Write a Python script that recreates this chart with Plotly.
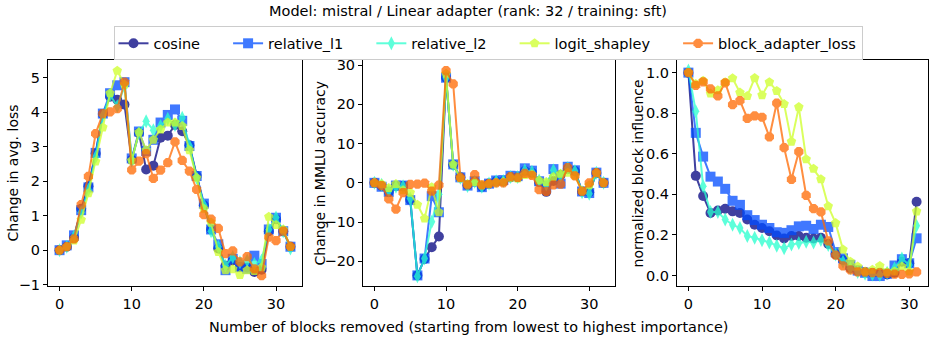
import plotly.graph_objects as go
from plotly.subplots import make_subplots

W, H = 934, 344

methods = ["cosine", "relative_l1", "relative_l2", "logit_shapley", "block_adapter_loss"]
colors = ["rgb(0,0,127)", "rgb(0,77,255)", "rgb(41,255,206)", "rgb(206,255,41)", "rgb(255,104,0)"]
symbols = ["circle", "square", "diamond-tall", "pentagon", "octagon"]

# ---- panel 1: change in avg. loss (blocks 0..32) ----
loss_cosine = [0, 0.1, 0.35, 1.2, 1.85, 2.8, 3.95, 4.45, 4.36, 4.22, 2.62, 3.4, 2.34, 2.45, 3.26, 3.32,
               3.63, 3.45, 3.04, 2.15, 1.3, 0.6, 0.05, -0.45, -0.3, -0.49, -0.5, -0.63, -0.57, 0.55, 0.9, 0.55, 0.1]
loss_rel_l1 = [0, 0.14, 0.43, 1.16, 1.82, 2.82, 3.96, 4.55, 4.78, 4.87, 2.66, 3.44, 2.87, 3.2, 3.7, 3.92,
               4.08, 3.75, 3.02, 2.15, 1.35, 0.6, 0.17, -0.58, -0.25, -0.49, -0.54, -0.16, -0.4, 0.6, 0.94, 0.55, 0.1]
loss_rel_l2 = [0, 0.1, 0.4, 1.1, 1.75, 2.7, 3.9, 4.5, 4.17, 4.75, 2.6, 3.4, 3.74, 3.48, 3.6, 3.81,
               3.63, 3.84, 3.02, 2.1, 1.3, 0.55, 0.1, -0.45, -0.2, -0.35, -0.3, -0.4, -0.3, 0.6, 0.95, 0.55, 0.05]
loss_shapley = [0, 0.1, 0.28, 0.88, 1.65, 2.57, 3.56, 4.55, 5.2, 4.8, 2.6, 3.42, 2.9, 3.2, 3.5, 3.7,
                3.7, 3.6, 2.9, 2.1, 1.2, 0.8, -0.05, -0.58, -0.55, -0.72, -0.58, -0.6, -0.5, 0.97, 0.73, 0.6, 0.1]
loss_adapter = [0, 0.1, 0.33, 1.32, 2.14, 3.38, 3.96, 4.01, 4.1, 4.87, 2.33, 2.58, 2.8, 2.08, 2.32, 2.54,
                3.14, 2.6, 2.29, 1.76, 1.03, 0.9, 0.63, -0.1, -0.02, -0.34, -0.19, -0.54, -0.74, 0.38, 0.28, 0.55, 0.11]

# ---- panel 2: change in MMLU accuracy (blocks 0..32) ----
mmlu_cosine = [0, -0.8, -2.3, -0.8, -0.8, -4.3, -23.6, -19.4, -16.4, -13.7, 26.8, 4.6, 1.4, -0.6, 0.3, -1.0,
               -0.2, 0.4, 0.4, 1.4, 1.4, 3.0, 2.6, 0.2, -2.3, 0.5, 2.0, 3.5, 3.0, -2.2, -2.4, 2.5, 0]
mmlu_rel_l1 = [0, -1.0, -2.3, -0.7, -0.7, -4.4, -23.6, -19.3, -3.4, -7.5, 26.8, 4.7, 1.4, -0.7, 0.4, -1.1,
               -0.2, 0.6, 0.7, 1.8, 1.7, 3.7, 3.1, 0.4, -0.7, 3.5, -0.2, 4.1, 3.2, -2.2, -2.6, 2.6, 0]
mmlu_rel_l2 = [0, -0.5, -2.0, -1.0, -0.9, -4.0, -23.8, -19.3, -9.9, -2.9, 26.8, 4.6, 1.3, -0.8, 0.3, -1.0,
               -0.2, 0.4, 0.5, 1.5, 1.5, 3.2, 2.8, 0.6, -0.4, 3.2, 1.8, 3.8, 3.0, -2.4, -2.8, 2.6, 0]
mmlu_shapley = [0, -0.3, -1.3, -0.3, -1.9, -2.5, -5.6, -9.1, -1.1, -7.5, 27.8, 4.7, 1.2, -0.3, 0.2, -0.6,
                -0.2, 0.1, 0.2, 1.3, 1.1, 2.0, 2.1, 0.6, 0.2, 1.5, 2.3, 2.6, 1.8, -2.0, -0.6, 2.5, 0]
mmlu_adapter = [0, -0.7, -4.1, -6.7, -2.5, -0.4, -0.3, -0.1, -2.1, -0.6, 28.6, 25.2, 1.4, -0.5, 2.1, -0.5,
                -0.2, 0, 0, 1.6, 1.4, 2.4, 1.9, -1.7, -2.2, -0.5, -0.3, 3.9, 1.8, -2.2, 0, 2.6, 0]

# ---- panel 3: normalized block influence (blocks 0..31) ----
infl_cosine = [1.0, 0.491, 0.392, 0.308, 0.32, 0.329, 0.316, 0.308, 0.276, 0.25, 0.234, 0.218, 0.197, 0.182,
               0.194, 0.194, 0.186, 0.182, 0.186, 0.155, 0.104, 0.076, 0.036, 0.024, 0.017, 0.013, 0.013,
               0.005, 0.013, 0.068, 0.06, 0.363]
infl_rel_l1 = [1.0, 0.703, 0.586, 0.487, 0.463, 0.427, 0.368, 0.348, 0.297, 0.273, 0.25, 0.234, 0.213, 0.21,
               0.223, 0.242, 0.245, 0.229, 0.25, 0.239, 0.115, 0.084, 0.052, 0.024, 0.013, -0.003, -0.003,
               0.008, 0.049, 0.08, 0.06, 0.183]
infl_rel_l2 = [1.01, 0.81, 0.44, 0.313, 0.313, 0.276, 0.25, 0.234, 0.194, 0.186, 0.174, 0.163, 0.147, 0.134,
               0.152, 0.16, 0.166, 0.163, 0.175, 0.15, 0.103, 0.068, 0.036, 0.017, 0.008, 0.005, 0.002,
               0.013, 0.036, 0.084, 0.052, 0.245]
infl_shapley = [1.0, 0.944, 0.96, 0.897, 0.913, 0.953, 0.972, 0.902, 0.885, 0.973, 0.889, 0.953, 0.91, 0.845,
                0.66, 0.83, 0.573, 0.526, 0.474, 0.341, 0.258, 0.128, 0.068, 0.044, 0.02, 0.028, 0.047,
                0.017, 0.02, 0.044, 0.02, 0.316]
infl_adapter = [1.0, 0.937, 0.955, 0.92, 0.885, 0.95, 0.842, 0.862, 0.775, 0.787, 0.78, 0.683, 0.85, 0.63,
                0.474, 0.61, 0.395, 0.33, 0.313, 0.17, 0.1, 0.047, 0.028, 0.017, 0.016, 0.014, 0.013,
                0.01, 0.006, 0.005, 0.008, 0.017]

panels = [
    [loss_cosine, loss_rel_l1, loss_rel_l2, loss_shapley, loss_adapter],
    [mmlu_cosine, mmlu_rel_l1, mmlu_rel_l2, mmlu_shapley, mmlu_adapter],
    [infl_cosine, infl_rel_l1, infl_rel_l2, infl_shapley, infl_adapter],
]
y_titles = ["Change in avg. loss", "Change in MMLU accuracy", "normalized block influence"]

fig = make_subplots(rows=1, cols=3)

for p, series in enumerate(panels):
    for m, ys in enumerate(series):
        # non-breaking spaces widen the gap between legend entries
        label = methods[m] + ("\u00a0" * 5 if m < len(methods) - 1 else "")
        fig.add_trace(go.Scatter(
            x=list(range(len(ys))), y=ys,
            mode="lines+markers",
            name=label,
            legendgroup=methods[m],
            showlegend=(p == 0),
            opacity=0.75,
            line=dict(color=colors[m], width=2),
            marker=dict(symbol=symbols[m], size=10, color=colors[m]),
        ), row=1, col=p + 1)

# plot areas in pixels (left, right)
x_px = [(48, 302), (363, 615), (677, 928)]
y_top, y_bot = 59, 291
font = "DejaVu Sans, sans-serif"

axis_style = dict(showline=True, mirror=True, linecolor="black", linewidth=1,
                  ticks="outside", ticklen=4, tickcolor="black", showgrid=False,
                  zeroline=False, tickfont=dict(size=14.5, color="black", family=font))

for i, (l, r) in enumerate(x_px):
    n = len(panels[i][0]) - 1
    fig.update_xaxes(domain=[l / W, r / W], range=[-0.05 * n, n * 1.05],
                     tickvals=[0, 10, 20, 30], **axis_style, row=1, col=i + 1)

fig.update_yaxes(domain=[1 - y_bot / H, 1 - y_top / H])
fig.update_yaxes(range=[-1.05, 5.5], tickvals=[-1, 0, 1, 2, 3, 4, 5], **axis_style, row=1, col=1)
fig.update_yaxes(range=[-26.4, 31.2], tickvals=[-20, -10, 0, 10, 20, 30], **axis_style, row=1, col=2)
fig.update_yaxes(range=[-0.054, 1.06], tickvals=[0, 0.2, 0.4, 0.6, 0.8, 1.0], tickformat=".1f",
                 **axis_style, row=1, col=3)

annotations = [
    dict(text="Model: mistral / Linear adapter (rank: 32 / training: sft)", x=468 / W, y=1 - 8 / H,
         xref="paper", yref="paper", xanchor="center", yanchor="middle", showarrow=False,
         font=dict(size=14.5, family=font, color="black")),
    dict(text="Number of blocks removed (starting from lowest to highest importance)", x=468 / W,
         y=1 - 333 / H, xref="paper", yref="paper", xanchor="center", yanchor="middle", showarrow=False,
         font=dict(size=14.4, family=font, color="black")),
]
for xc, t in zip([13, 320, 638], y_titles):
    annotations.append(dict(text=t, x=xc / W, y=1 - 175 / H, xref="paper", yref="paper",
                            xanchor="center", yanchor="middle", textangle=-90, showarrow=False,
                            font=dict(size=14, family=font, color="black")))

fig.update_layout(
    width=W, height=H,
    margin=dict(l=0, r=0, t=0, b=0),
    paper_bgcolor="white", plot_bgcolor="white",
    font=dict(family=font, color="black"),
    annotations=annotations,
    legend=dict(orientation="h", x=488 / W, xanchor="center", y=1 - 24 / H, yanchor="top",
                bordercolor="#cccccc", borderwidth=1, font=dict(size=14.5, family=font),
                itemwidth=30, tracegroupgap=0),
    showlegend=True,
)

fig.write_html("out.html", config={"displayModeBar": False},
               post_script="document.body.style.margin='0';")
